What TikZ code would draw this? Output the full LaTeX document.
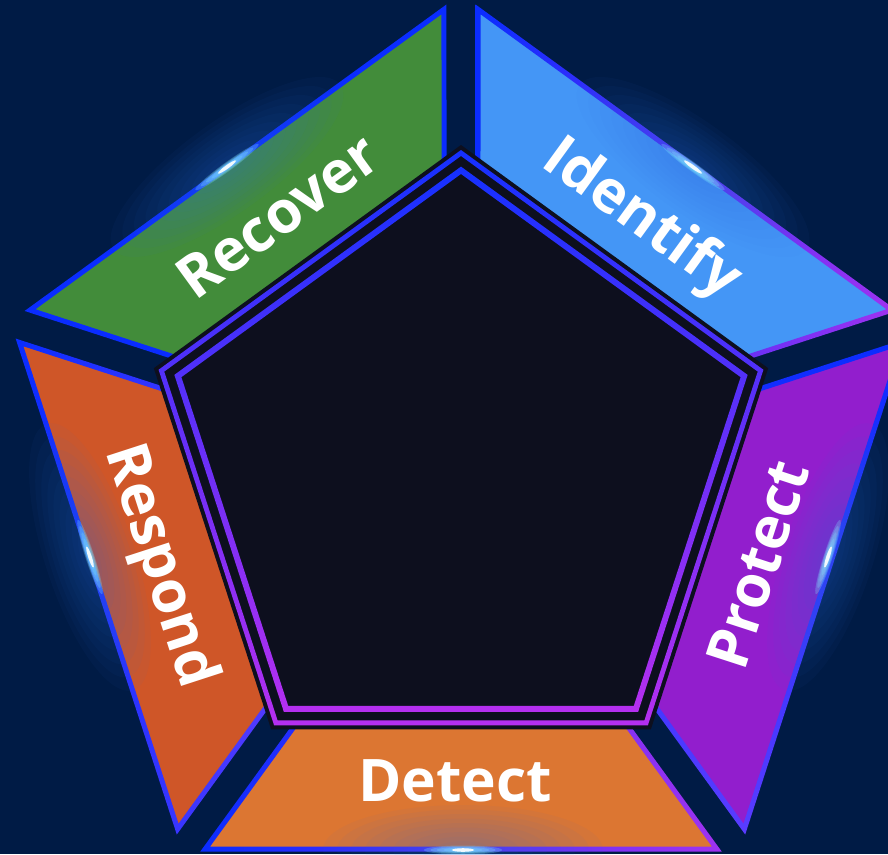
\documentclass[tikz,border=0pt]{standalone}
\usepackage{fontspec}
\setmainfont{Open Sans}
\usetikzlibrary{calc}
\definecolor{bg}{HTML}{001B45}
\definecolor{core}{HTML}{0D0F1E}
\definecolor{cRecover}{HTML}{428C3A}
\definecolor{cIdentify}{HTML}{4496F6}
\definecolor{cProtect}{HTML}{921ECD}
\definecolor{cDetect}{HTML}{DC7632}
\definecolor{cRespond}{HTML}{CF5628}
\definecolor{eblue}{HTML}{0A2CFF}
\definecolor{epurple}{HTML}{A032F0}
\definecolor{eviolet}{HTML}{5A3CFF}
\definecolor{rblue}{HTML}{1530FF}
\definecolor{rpurple}{HTML}{B52FF0}
\definecolor{halo}{HTML}{2F6FE0}
\definecolor{flarec}{HTML}{7FE4FF}
\tikzset{
  segpath/.style n args={5}{insert path={
    ($(#1:#3)!{1.0515*(#4)/(#3)}!(#2:#3)$) --
    ($(#2:#3)!{1.0515*(#4)/(#3)}!(#1:#3)$) --
    ($(#2:#5)!{1.0515*(#4)/(#5)}!(#1:#5)$) --
    ($(#1:#5)!{1.0515*(#4)/(#5)}!(#2:#5)$) -- cycle}},
  pent/.style={insert path={(90:#1) -- (18:#1) -- (-54:#1) -- (-126:#1) -- (-198:#1) -- cycle}},
  lab/.style={text=white, font=\fontsize{44}{44}\selectfont\bfseries, inner sep=0pt, text height=31.5pt, text depth=0pt},
}
\newcommand\flareat[2]{%
  \begin{scope}[shift={#1}, rotate=#2]
    \foreach \k in {1,...,10}{
      \fill[halo, fill opacity=0.045] (0,0) ellipse [x radius={14*\k}, y radius={4.5*\k}];
    }
    \foreach \k in {1,...,6}{
      \fill[flarec, fill opacity=0.28] (0,0) ellipse [x radius={6.5*\k}, y radius={0.75*\k}];
    }
    \fill[white, fill opacity=0.9] (0,0) ellipse [x radius=11, y radius=1.8];
  \end{scope}}
\begin{document}
\begin{tikzpicture}[x=0.75pt, y=0.75pt]
\useasboundingbox (-461,-386) rectangle (427,468);
\fill[bg] (-461,-386) rectangle (427,468);
% segment fills
\fill[cIdentify] [segpath={90}{18}{471}{17}{280}];
\fill[cProtect]  [segpath={18}{-54}{471}{17}{280}];
\fill[cDetect]   [segpath={-54}{-126}{471}{17}{280}];
\fill[cRespond]  [segpath={-126}{-198}{471}{17}{280}];
\fill[cRecover]  [segpath={162}{90}{471}{17}{280}];
% segment borders
\shade[left color=eblue, middle color=eblue, right color=epurple, even odd rule]
  [segpath={90}{18}{474.1}{14.5}{270}, segpath={90}{18}{467.9}{19.5}{290}];
\shade[top color=eblue, bottom color=eviolet, even odd rule]
  [segpath={18}{-54}{474.1}{14.5}{270}, segpath={18}{-54}{467.9}{19.5}{290}];
\shade[left color=eblue, middle color=eblue, right color=epurple, even odd rule]
  [segpath={-54}{-126}{474.1}{14.5}{270}, segpath={-54}{-126}{467.9}{19.5}{290}];
\shade[left color=eblue, right color=eviolet, even odd rule]
  [segpath={-126}{-198}{474.1}{14.5}{270}, segpath={-126}{-198}{467.9}{19.5}{290}];
\fill[eblue, even odd rule]
  [segpath={162}{90}{474.1}{14.5}{270}, segpath={162}{90}{467.9}{19.5}{290}];
% flares
\flareat{(-234,301)}{36}
\flareat{(232,301)}{-36}
\flareat{(367,-89)}{72}
\flareat{(-371,-89)}{-72}
\flareat{(2,-382)}{0}
% core pentagon
\fill[core] [pent=323];
\shade[top color=rblue, bottom color=rpurple, even odd rule] [pent=318, pent=312];
\shade[top color=rblue, bottom color=rpurple, even odd rule] [pent=301.4, pent=294];
% labels
\node[lab, rotate=36]  (recover)  at (126:312) {Recover};
\node[lab, rotate=-36] (identify) at (54:312)  {Identify};
\node[lab, rotate=72]  (protect)  at (-18:312) {Protect};
\node[lab]             (detect)   at ($(-90:312)+(-6,0)$) {Detect};
\node[lab, rotate=-72] (respond)  at (198:312) {Respond};
\end{tikzpicture}
\end{document}
